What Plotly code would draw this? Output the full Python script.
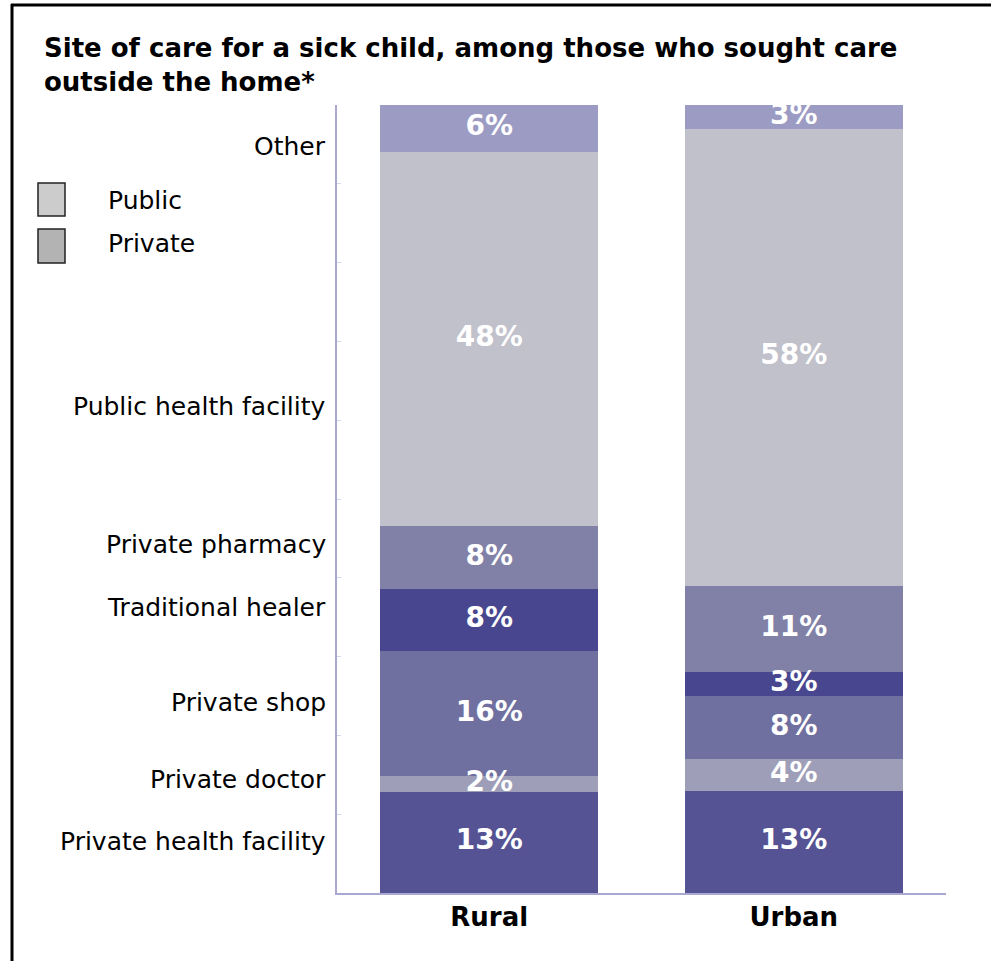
import plotly.graph_objects as go

# ---- data ----
groups = ["Rural", "Urban"]
sites = ["Private health facility", "Private doctor", "Private shop",
         "Traditional healer", "Private pharmacy", "Public health facility", "Other"]
rural = [13, 2, 16, 8, 8, 48, 6]
urban = [13, 4, 8, 3, 11, 58, 3]

# ---- style ----
colors = ["#555394", "#9e9eb8", "#7070a0", "#47468f", "#8181a8", "#c1c1cb", "#9b9bc3"]
label_nudge = [0.1, 0.6, 1.4, 1.6, 1.6, -8.6, -2.3]  # layout nudges of left labels (axis units)

W, H = 991, 961
L, R, T, B = 337, 946, 105, 893


def px(x):
    return (x - L) / (R - L)


def py(y):
    return (B - y) / (B - T)


FONT = "DejaVu Sans"

fig = go.Figure()
for i, s in enumerate(sites):
    vals = [rural[i], urban[i]]
    fig.add_trace(go.Bar(
        x=groups, y=vals, name=s,
        marker=dict(color=colors[i], line=dict(width=0)),
        width=0.716, hoverinfo="skip", showlegend=False,
    ))


def midpoints(vals):
    tot = sum(vals)
    out, cum = [], 0
    for v in vals:
        out.append((cum + v / 2) / tot * 100)
        cum += v
    return out


# value labels drawn on top of all bars
for g, vals in zip(groups, [rural, urban]):
    fig.add_trace(go.Scatter(
        x=[g] * len(vals), y=midpoints(vals), mode="text",
        text=[f"{v}%" for v in vals], textposition="middle center",
        textfont=dict(family=FONT, size=28, color="white", weight="bold"),
        hoverinfo="skip", showlegend=False, cliponaxis=False,
    ))

annotations = []
# left category labels at the (normalised) rural segment midpoints
for i, (s, mid) in enumerate(zip(sites, midpoints(rural))):
    annotations.append(dict(
        x=px(328), xref="paper", y=mid + label_nudge[i], yref="y",
        text=s, showarrow=False, xanchor="right", yanchor="middle",
        font=dict(family=FONT, size=25, color="black")))

# title
annotations.append(dict(x=px(42), xref="paper", y=py(48), yref="paper",
                        text="Site of care for a sick child, among those who sought care",
                        showarrow=False, xanchor="left", yanchor="middle",
                        font=dict(family=FONT, size=26, color="black", weight="bold")))
annotations.append(dict(x=px(42), xref="paper", y=py(82), yref="paper",
                        text="outside the home*",
                        showarrow=False, xanchor="left", yanchor="middle",
                        font=dict(family=FONT, size=26, color="black", weight="bold")))
# legend texts
annotations.append(dict(x=px(106), xref="paper", y=py(200), yref="paper", text="Public",
                        showarrow=False, xanchor="left", yanchor="middle",
                        font=dict(family=FONT, size=25, color="black")))
annotations.append(dict(x=px(106), xref="paper", y=py(244), yref="paper", text="Private",
                        showarrow=False, xanchor="left", yanchor="middle",
                        font=dict(family=FONT, size=25, color="black")))

shapes = [
    # frame
    dict(type="line", xref="paper", yref="paper", x0=px(11), x1=px(991), y0=py(5), y1=py(5),
         line=dict(color="black", width=3)),
    dict(type="line", xref="paper", yref="paper", x0=px(12), x1=px(12), y0=py(4), y1=py(962),
         line=dict(color="black", width=3)),
    # legend boxes
    dict(type="rect", xref="paper", yref="paper", x0=px(38), x1=px(65), y0=py(216), y1=py(183),
         fillcolor="#cccccc", line=dict(color="#222222", width=1.5)),
    dict(type="rect", xref="paper", yref="paper", x0=px(38), x1=px(65), y0=py(263), y1=py(229),
         fillcolor="#b3b3b3", line=dict(color="#222222", width=1.5)),
]

fig.update_layout(
    width=W, height=H,
    margin=dict(l=L, r=W - R, t=T, b=H - B, pad=0),
    barmode="stack", barnorm="percent", bargap=0.284,
    paper_bgcolor="white", plot_bgcolor="white",
    annotations=annotations, shapes=shapes,
    showlegend=False,
    xaxis=dict(range=[-0.5, 1.5], showline=True, linecolor="#a8a8d0", linewidth=2,
               ticks="", showgrid=False, zeroline=False,
               tickfont=dict(family=FONT, size=26, color="black", weight="bold")),
    yaxis=dict(range=[0, 100], showline=True, linecolor="#a8a8d0", linewidth=2,
               showticklabels=False, showgrid=False, zeroline=False,
               ticks="inside", ticklen=4, tickcolor="#d6d6e8", dtick=10),
)

fig.write_html("out.html", config={"displayModeBar": False},
               post_script="document.body.style.margin='0';")
